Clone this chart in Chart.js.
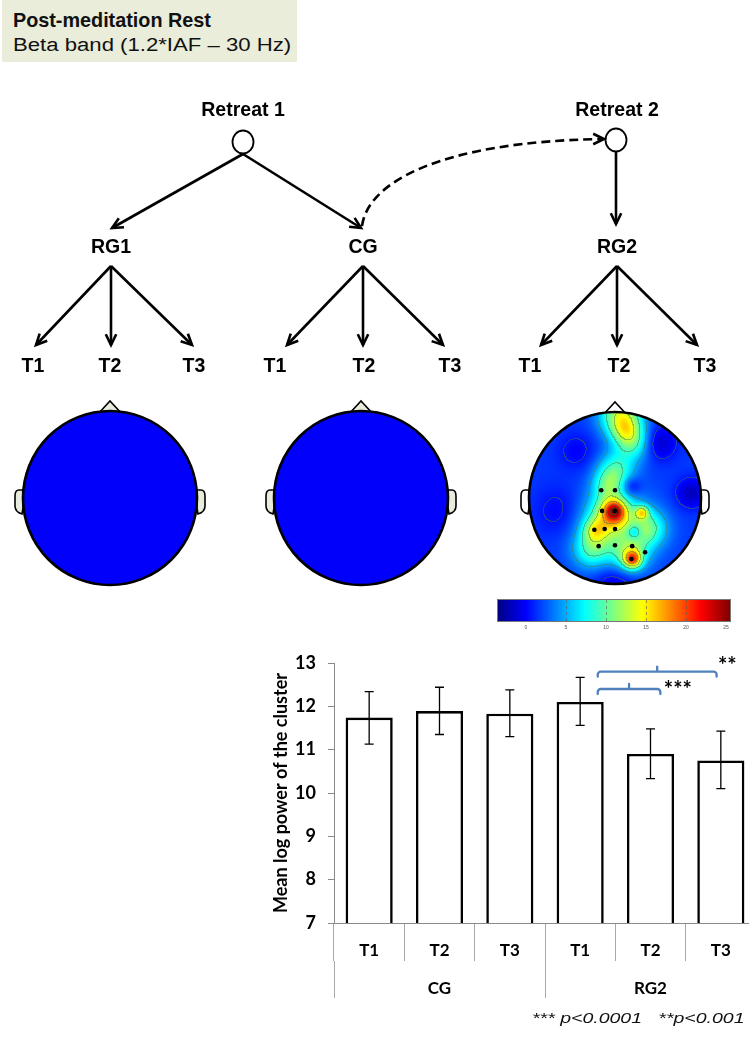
<!DOCTYPE html>
<html>
<head>
<meta charset="utf-8">
<title>Post-meditation Rest – Beta band</title>
<script src="https://cdn.jsdelivr.net/npm/chart.js@4.4.1/dist/chart.umd.min.js"></script>
<style>
    html, body { margin: 0; padding: 0; width: 749px; height: 1037px; overflow: hidden; background: #fff; }
    #diagram { position: absolute; left: 0; top: 0; }
    #caption { position: absolute; left: 2px; top: 0; width: 295px; height: 62px; background: #e9edda; font-family: 'Liberation Sans', Arial, sans-serif; color: #111; z-index: 2; }
    #caption .l1 { position: absolute; left: 11px; top: 10.5px; font-size: 19.8px; line-height: 19.5px; font-weight: bold; white-space: nowrap; }
    #caption .l2 { position: absolute; left: 11px; top: 35.8px; font-size: 18px; line-height: 18px; white-space: nowrap; transform: scaleX(1.23); transform-origin: left center; }
    #chartBox { position: absolute; left: 250px; top: 640px; width: 520px; height: 397px; }
    #note { position: absolute; left: 532px; top: 1010px; font: italic 15px/15px 'Liberation Sans', Arial, sans-serif; white-space: pre; color: #111; transform: scaleX(1.3); transform-origin: left center; }
</style>
</head>
<body>
<div id="caption">
    <div class="l1">Post-meditation Rest</div>
    <div class="l2">Beta band (1.2*IAF – 30 Hz)</div>
</div>
<canvas id="diagram" width="749" height="640"></canvas>
<div id="chartBox"><canvas id="powerChart" width="520" height="397"></canvas></div>
<div id="note">*** p&lt;0.0001   **p&lt;0.001</div>

<script>
// Mean log power of the cluster, per group and time point
const timeLabels = ['T1', 'T2', 'T3', 'T1', 'T2', 'T3'];
const groupLabels = ['CG', 'RG2'];
const meanPower = [11.74, 11.89, 11.83, 12.10, 10.90, 10.75];
const errUpper = [12.34, 12.44, 12.38, 12.67, 11.48, 11.43];
const errLower = [11.13, 11.35, 11.30, 11.56, 10.33, 10.10];
const yTicks = [7, 8, 9, 10, 11, 12, 13];

// significance brackets (category index units / y values)
const bracketFrom = [3.25, 3.25];
const bracketTo = [4.14, 4.94];
const bracketLevel = [12.40, 12.80];
const starText = ['***', '**'];
const starAt = [4.19, 4.96];
const starLevel = [12.50, 13.04];

// topographic map of the RG2 cluster (head-normalised coordinates)
const topoBase = 4.5;
const topoMax = 25;
const topoX   = [-0.01, -0.02, -0.08, -0.24, 0.20, 0.17, 0.31, 0.06, 0.20, 0.00, -0.10, -0.28, 0.38, 0.22, 0.50, 0.88, 0.18, 0.00, -0.65, -0.45, 0.02, 0.12];
const topoY   = [0.145, 0.16, 0.22, 0.37, 0.71, 0.66, 0.16, -0.97, -0.65, -0.32, -0.15, 0.60, 0.35, 0.39, -0.65, -0.06, -0.14, 0.98, 0.15, -0.55, 0.38, -0.80];
const topoAmp = [7, 8, 4, 5, 10, 6, 7, 9, 6, 6, 4, 5, 6, -4, -3, -3, -3, -2.5, -1.5, -1.5, 4, 4];
const topoW   = [0.07, 0.13, 0.22, 0.10, 0.07, 0.14, 0.055, 0.17, 0.15, 0.15, 0.12, 0.15, 0.15, 0.06, 0.14, 0.12, 0.08, 0.18, 0.20, 0.15, 0.30, 0.12];
const clusterX = [-0.16, 0.00, -0.15, 0.00, -0.24, -0.12, 0.00, -0.19, 0.00, 0.20, 0.35, 0.19];
const clusterY = [-0.09, -0.09, 0.15, 0.15, 0.37, 0.36, 0.36, 0.56, 0.55, 0.56, 0.63, 0.71];
const colorbarTicks = ['0', '5', '10', '15', '20', '25'];

// ---------- diagram ----------
const dg = document.getElementById('diagram').getContext('2d');

function jet(t) {
    t = Math.max(0, Math.min(1, t));
    const c = v => Math.max(0, Math.min(1, v));
    return [c(1.5 - Math.abs(4 * t - 3)) * 255, c(1.5 - Math.abs(4 * t - 2)) * 255, c(1.5 - Math.abs(4 * t - 1)) * 255];
}

function arrowHead(ctx, x, y, ang) {
    const len = 12, spread = 0.45;
    ctx.beginPath();
    ctx.moveTo(x - len * Math.cos(ang - spread), y - len * Math.sin(ang - spread));
    ctx.lineTo(x, y);
    ctx.lineTo(x - len * Math.cos(ang + spread), y - len * Math.sin(ang + spread));
    ctx.stroke();
}

function arrow(ctx, x1, y1, x2, y2) {
    ctx.beginPath();
    ctx.moveTo(x1, y1);
    ctx.lineTo(x2, y2);
    ctx.stroke();
    arrowHead(ctx, x2, y2, Math.atan2(y2 - y1, x2 - x1));
}

function headShape(ctx, cx, cy, r, fill, earFill) {
    ctx.save();
    ctx.lineWidth = 1.6;
    ctx.strokeStyle = '#000';
    ctx.fillStyle = earFill;
    // ears
    [-1, 1].forEach(s => {
        ctx.beginPath();
        ctx.moveTo(cx + s * (r - 3), cy - 8);
        ctx.lineTo(cx + s * (r + 4), cy - 8);
        ctx.quadraticCurveTo(cx + s * (r + 8), cy - 8, cx + s * (r + 8), cy - 2);
        ctx.lineTo(cx + s * (r + 8), cy + 8);
        ctx.quadraticCurveTo(cx + s * (r + 8), cy + 14, cx + s * (r + 1), cy + 16);
        ctx.closePath();
        ctx.fill();
        ctx.stroke();
    });
    // nose
    ctx.beginPath();
    ctx.moveTo(cx - 12, cy - r + 3);
    ctx.lineTo(cx, cy - r - 10);
    ctx.lineTo(cx + 12, cy - r + 3);
    ctx.closePath();
    ctx.fill();
    ctx.stroke();
    ctx.restore();
    if (fill) {
        ctx.beginPath();
        ctx.arc(cx, cy, r, 0, Math.PI * 2);
        ctx.fillStyle = fill;
        ctx.fill();
    }
}

function headOutline(ctx, cx, cy, r) {
    ctx.beginPath();
    ctx.arc(cx, cy, r, 0, Math.PI * 2);
    ctx.lineWidth = 2.6;
    ctx.strokeStyle = '#000';
    ctx.stroke();
}

function topoValue(nx, ny) {
    let v = topoBase;
    for (let i = 0; i < topoAmp.length; i++) {
        const dx = nx - topoX[i], dy = ny - topoY[i];
        v += topoAmp[i] * Math.exp(-(dx * dx + dy * dy) / (2 * topoW[i] * topoW[i]));
    }
    return v;
}

function drawTopo(ctx, cx, cy, r) {
    const size = 2 * r + 2;
    const off = document.createElement('canvas');
    off.width = size; off.height = size;
    const octx = off.getContext('2d');
    const img = octx.createImageData(size, size);
    const vals = new Float32Array(size * size);
    for (let py = 0; py < size; py++) {
        for (let px = 0; px < size; px++) {
            vals[py * size + px] = topoValue((px - r) / r, (py - r) / r);
        }
    }
    // contour lines where the level band changes
    const step = topoMax / 7;
    for (let py = 0; py < size; py++) {
        for (let px = 0; px < size; px++) {
            const nx = (px - r) / r, ny = (py - r) / r;
            if (nx * nx + ny * ny > 1) continue;
            const v = vals[py * size + px];
            let [R, G, B] = jet(v / topoMax);
            const lv = Math.floor(v / step);
            const right = px + 1 < size ? Math.floor(vals[py * size + px + 1] / step) : lv;
            const down = py + 1 < size ? Math.floor(vals[(py + 1) * size + px] / step) : lv;
            if (lv !== right || lv !== down) {
                R = R * 0.55 + 30; G = G * 0.55 + 55; B = B * 0.55 + 30;
            }
            const k = (py * size + px) * 4;
            img.data[k] = R; img.data[k + 1] = G; img.data[k + 2] = B; img.data[k + 3] = 255;
        }
    }
    octx.putImageData(img, 0, 0);
    ctx.drawImage(off, cx - r, cy - r);
}

// tree
dg.lineWidth = 2.6;
dg.strokeStyle = '#000';
dg.lineJoin = 'miter';
dg.font = 'bold 19.5px "Liberation Sans", Arial, sans-serif';
dg.fillStyle = '#000';
dg.textAlign = 'center';
dg.textBaseline = 'middle';

dg.fillText('Retreat 1', 243, 111);
dg.fillText('Retreat 2', 617, 111);
[[243, 142], [616, 140]].forEach(([x, y]) => {
    dg.beginPath();
    dg.ellipse(x, y, 10.5, 11.5, 0, 0, Math.PI * 2);
    dg.fillStyle = '#fff';
    dg.fill();
    dg.lineWidth = 1.8;
    dg.stroke();
});
dg.fillStyle = '#000';
dg.lineWidth = 2.6;

arrow(dg, 243, 154, 112, 228);
arrow(dg, 243, 154, 361, 228);
arrow(dg, 616, 152, 616, 224);

// dashed link from CG to Retreat 2
dg.save();
dg.setLineDash([9, 5]);
dg.beginPath();
dg.moveTo(362, 226);
dg.bezierCurveTo(368, 182, 440, 142, 601, 139);
dg.stroke();
dg.restore();
arrowHead(dg, 604, 139, 0);

dg.fillText('RG1', 111, 248);
dg.fillText('CG', 363, 248);
dg.fillText('RG2', 617, 248);

const subTrees = [[111, 36, 192], [363, 287, 443], [617, 541, 697]];
subTrees.forEach(([c, l, r]) => {
    arrow(dg, c, 266, l, 345);
    arrow(dg, c, 266, c, 345);
    arrow(dg, c, 266, r, 345);
});
const tLabelX = [33, 110, 194, 275, 364, 450, 530, 619, 705];
tLabelX.forEach((x, i) => dg.fillText('T' + (i % 3 + 1), x, 367));

// heads
headShape(dg, 110, 498, 87, '#0000fb', '#e8ecdc');
headOutline(dg, 110, 498, 87);
headShape(dg, 361, 498, 87, '#0000fb', '#e8ecdc');
headOutline(dg, 361, 498, 87);
headShape(dg, 615, 498, 86, null, '#fff');
drawTopo(dg, 615, 498, 86);
headOutline(dg, 615, 498, 86);
dg.fillStyle = '#000';
clusterX.forEach((x, i) => {
    dg.beginPath();
    dg.arc(615 + x * 86, 498 + clusterY[i] * 86, 2.3, 0, Math.PI * 2);
    dg.fill();
});

// colour bar
const cb = dg.createLinearGradient(497, 0, 730, 0);
[0, 0.125, 0.375, 0.625, 0.875, 1].forEach(s => {
    const [R, G, B] = jet(s);
    cb.addColorStop(s, `rgb(${R | 0},${G | 0},${B | 0})`);
});
dg.fillStyle = cb;
dg.fillRect(497, 599, 233, 22);
dg.strokeStyle = '#777';
dg.lineWidth = 1;
dg.strokeRect(497.5, 599.5, 233, 22);
dg.save();
dg.setLineDash([3, 3]);
dg.strokeStyle = 'rgba(90,90,90,0.6)';
[566, 606, 646, 686].forEach(x => {
    dg.beginPath(); dg.moveTo(x + 0.5, 600); dg.lineTo(x + 0.5, 621); dg.stroke();
});
dg.restore();
dg.fillStyle = '#555';
dg.font = '5px "Liberation Sans", Arial, sans-serif';
colorbarTicks.forEach((t, i) => dg.fillText(t, 526 + i * 40, 628));

// ---------- bar chart ----------
const errorBars = {
    id: 'errorBars',
    afterDatasetsDraw(chart) {
        const {ctx, scales: {x, y}} = chart;
        ctx.save();
        ctx.strokeStyle = '#000';
        ctx.lineWidth = 1.3;
        meanPower.forEach((v, i) => {
            const px = x.getPixelForValue(i);
            const top = y.getPixelForValue(errUpper[i]);
            const bot = y.getPixelForValue(errLower[i]);
            ctx.beginPath();
            ctx.moveTo(px, top); ctx.lineTo(px, bot);
            ctx.moveTo(px - 4.5, top); ctx.lineTo(px + 4.5, top);
            ctx.moveTo(px - 4.5, bot); ctx.lineTo(px + 4.5, bot);
            ctx.stroke();
        });
        ctx.restore();
    }
};

const sigBrackets = {
    id: 'sigBrackets',
    afterDatasetsDraw(chart) {
        const {ctx, scales: {x, y}} = chart;
        ctx.save();
        ctx.strokeStyle = '#4f81bd';
        ctx.lineWidth = 2.3;
        ctx.lineCap = 'round';
        bracketLevel.forEach((lv, i) => {
            const x1 = x.getPixelForValue(bracketFrom[i]);
            const x2 = x.getPixelForValue(bracketTo[i]);
            const yy = y.getPixelForValue(lv);
            const xm = (x1 + x2) / 2;
            ctx.beginPath();
            ctx.moveTo(x1, yy + 5);
            ctx.arcTo(x1, yy, x1 + 5, yy, 3);
            ctx.lineTo(x2 - 3, yy);
            ctx.arcTo(x2, yy, x2, yy + 5, 3);
            ctx.lineTo(x2, yy + 5);
            ctx.moveTo(xm, yy);
            ctx.lineTo(xm, yy - 5);
            ctx.stroke();
        });
        ctx.fillStyle = '#000';
        ctx.font = 'bold 22px Lato';
        ctx.textAlign = 'left';
        ctx.textBaseline = 'alphabetic';
        starText.forEach((s, i) => {
            ctx.fillText(s, x.getPixelForValue(starAt[i]), y.getPixelForValue(starLevel[i]) + 12);
        });
        ctx.restore();
    }
};

const axisFont = {family: 'Lato', weight: 'bold', size: 17};

new Chart(document.getElementById('powerChart'), {
    type: 'bar',
    data: {
        labels: timeLabels,
        datasets: [{
            data: meanPower,
            backgroundColor: '#fff',
            borderColor: '#000',
            borderWidth: 2.6,
            borderSkipped: false,
            barPercentage: 0.67,
            categoryPercentage: 1
        }]
    },
    options: {
        responsive: false,
        animation: false,
        devicePixelRatio: 1,
        layout: {padding: {top: 23, right: 14, bottom: 0, left: 0}},
        plugins: {legend: {display: false}, tooltip: {enabled: false}},
        scales: {
            x: {
                offset: true,
                border: {color: '#8a8a8a', width: 1},
                grid: {offset: true, drawOnChartArea: false, tickLength: 38, color: '#a8a8a8'},
                ticks: {padding: -21, color: '#000', font: axisFont},
                afterFit(s) { s.height = 38; }
            },
            x2: {
                type: 'category',
                position: 'bottom',
                labels: groupLabels,
                offset: true,
                border: {display: false},
                grid: {offset: true, drawOnChartArea: false, tickLength: 37, color: '#a8a8a8'},
                ticks: {padding: -20, color: '#000', font: axisFont},
                afterFit(s) { s.height = 76; }
            },
            y: {
                min: 7,
                max: 13,
                border: {color: '#8a8a8a', width: 1},
                grid: {drawOnChartArea: false, tickLength: 6, color: '#8a8a8a'},
                afterBuildTicks(s) { s.ticks = yTicks.map(v => ({value: v})); },
                ticks: {padding: 12, color: '#000', font: {family: 'Lato', weight: 'bold', size: 18}},
                title: {
                    display: true,
                    text: 'Mean log power of the cluster',
                    color: '#000',
                    font: {family: 'Lato', weight: 'bold', size: 18},
                    padding: {top: 20, bottom: 0}
                },
                afterFit(s) { s.width = 84; }
            }
        }
    },
    plugins: [errorBars, sigBrackets]
});
</script>
</body>
</html>
